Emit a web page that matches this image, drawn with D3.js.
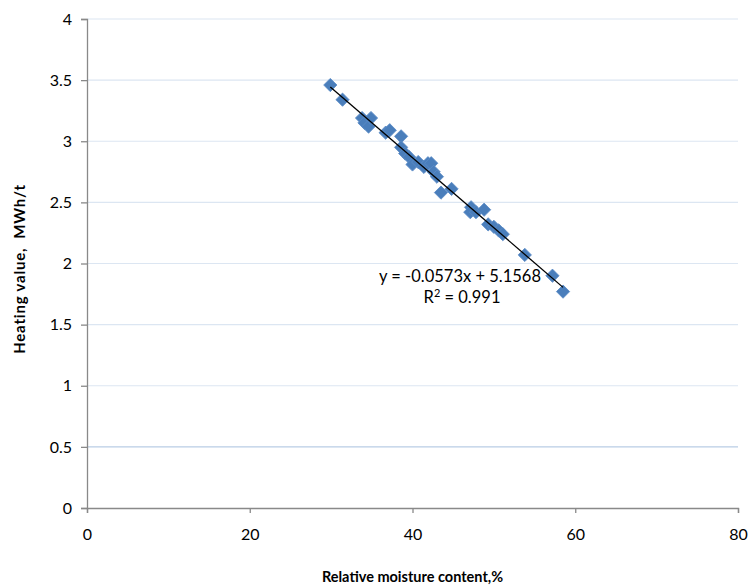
<!DOCTYPE html>
<html>
<head>
<meta charset="utf-8">
<script src="https://cdn.jsdelivr.net/npm/d3@7"></script>
<style>
  body { margin: 0; background: #fff; }
  svg text { font-family: Lato, "Open Sans", sans-serif; fill: #000; }
</style>
</head>
<body>
<div id="chart"></div>
<script>
// moisture content (%) vs heating value (MWh/t)
const moisture = [29.9, 31.4, 33.8, 34.1, 34.6, 34.9, 36.7, 37.2, 38.6, 38.6, 39.1, 39.6,
    40.0, 40.7, 41.4, 41.9, 42.3, 42.6, 43.0, 43.5, 44.8, 47.2, 47.1, 47.8, 48.8, 49.3,
    50.0, 50.6, 51.1, 53.8, 57.2, 58.5];
const heating = [3.46, 3.34, 3.19, 3.15, 3.12, 3.19, 3.07, 3.09, 3.04, 2.95, 2.90, 2.87,
    2.81, 2.83, 2.79, 2.82, 2.82, 2.75, 2.71, 2.58, 2.61, 2.46, 2.42, 2.42, 2.44, 2.32,
    2.30, 2.27, 2.24, 2.07, 1.90, 1.77];
const xTicks = [0, 20, 40, 60, 80];
const yTicks = [0, 0.5, 1, 1.5, 2, 2.5, 3, 3.5, 4];
const slope = -0.0573, intercept = 5.1568;
const eqLabel = 'y = -0.0573x + 5.1568';

const width = 750, height = 586;
const margin = { left: 87, right: 12, top: 19, bottom: 78 };

const svg = d3.select('#chart').append('svg')
    .attr('width', width)
    .attr('height', height);

const x = d3.scaleLinear().domain([0, 80]).range([margin.left, width - margin.right]);
const y = d3.scaleLinear().domain([0, 4]).range([height - margin.bottom, margin.top]);

// gridlines
svg.append('g').selectAll('line')
    .data(yTicks.filter(d => d > 0))
    .enter().append('line')
    .attr('x1', x(0)).attr('x2', x(80))
    .attr('y1', d => y(d)).attr('y2', d => y(d))
    .attr('stroke', d => d === 0.5 ? '#b9cde5' : '#dce6f2')
    .attr('stroke-width', 1.2);

const yAxis = svg.append('g')
    .attr('transform', `translate(${x(0)},0)`)
    .call(d3.axisLeft(y).tickValues(yTicks).tickSize(6).tickPadding(9).tickFormat(d => d));
const xAxis = svg.append('g')
    .attr('transform', `translate(0,${y(0)})`)
    .call(d3.axisBottom(x).tickValues(xTicks).tickSize(5).tickPadding(16).tickFormat(d => d));

[yAxis, xAxis].forEach(ax => {
    ax.select('.domain').attr('stroke', '#898989').attr('stroke-width', 1.3);
    ax.selectAll('.tick line').attr('stroke', '#898989').attr('stroke-width', 1.3);
    ax.selectAll('.tick text').style('font-size', '16px');
});

// data points
const pts = moisture.map((m, i) => ({ m, h: heating[i] }));
const diamond = d3.symbol().type(d3.symbolSquare).size(88);
svg.append('g').selectAll('path')
    .data(pts)
    .enter().append('path')
    .attr('d', diamond)
    .attr('transform', d => `translate(${x(d.m)},${y(d.h)}) rotate(45)`)
    .attr('fill', '#4a7ebb')
    .attr('stroke', '#5b8bc6')
    .attr('stroke-width', 0.8);

// linear trend line
const xMin = d3.min(moisture), xMax = d3.max(moisture);
svg.append('line')
    .attr('x1', x(xMin)).attr('y1', y(slope * xMin + intercept))
    .attr('x2', x(xMax)).attr('y2', y(slope * xMax + intercept))
    .attr('stroke', '#000')
    .attr('stroke-width', 1.3);

svg.append('text')
    .attr('x', 460).attr('y', 282)
    .attr('text-anchor', 'middle')
    .style('font-size', '16.5px')
    .text(eqLabel);
const r2 = svg.append('text')
    .attr('x', 462).attr('y', 303)
    .attr('text-anchor', 'middle')
    .style('font-size', '16.5px');
r2.append('tspan').text('R');
r2.append('tspan').attr('dy', -6).style('font-size', '11px').text('2');
r2.append('tspan').attr('dy', 6).text(' = 0.991');

// axis titles
svg.append('text')
    .attr('x', x(40)).attr('y', 582)
    .attr('text-anchor', 'middle')
    .style('font-size', '14.5px')
    .style('font-weight', 'bold')
    .text('Relative moisture content,%');
svg.append('text')
    .attr('transform', 'translate(25,269) rotate(-90)')
    .attr('text-anchor', 'middle')
    .style('font-size', '15px')
    .style('font-weight', 'bold')
    .style('white-space', 'pre')
    .style('letter-spacing', '0.8px')
    .text('Heating value,  MWh/t');
</script>
</body>
</html>
